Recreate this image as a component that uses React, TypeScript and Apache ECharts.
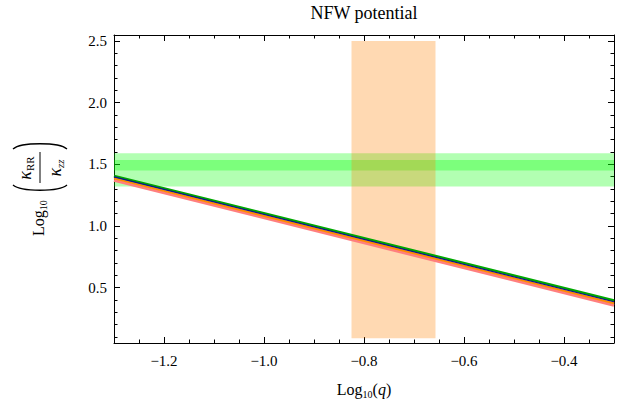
import React, { useEffect, useRef } from "react";
import * as echarts from "echarts";

// ---- data ----
const xRange = [-1.3, -0.3];
const yRange = [0.052, 2.548];
const xMajorTicks = [-1.2, -1.0, -0.8, -0.6, -0.4];
const xMinorTicks = [-1.25, -1.15, -1.1, -1.05, -0.95, -0.9, -0.85, -0.75, -0.7, -0.65, -0.55, -0.5, -0.45, -0.35];
const yMajorTicks = [0.5, 1.0, 1.5, 2.0, 2.5];
const yMinorTicks = [0.1, 0.2, 0.3, 0.4, 0.6, 0.7, 0.8, 0.9, 1.1, 1.2, 1.3, 1.4, 1.6, 1.7, 1.8, 1.9, 2.1, 2.2, 2.3, 2.4];

const logQ = [-1.3, -0.3];
const pinkLine = [1.37, 0.358];
const orangeLine = [1.386, 0.374];
const greenLine = [1.406, 0.397];
const blueLine = [1.398, 0.386];

const greenBands = [
  [1.32, 1.59],
  [1.449, 1.536],
];
const orangeBandX = [-0.825, -0.657];
const orangeBandY = [0.09, 2.5];

const SERIF = "Liberation Serif";

function fmtX(v: number) {
  return "{t|" + (v < 0 ? "\u2212" : "") + Math.abs(v).toFixed(1) + "}";
}
function fmtY(v: number) {
  return "{t|" + v.toFixed(1) + "}";
}

function makeAxis(kind: "x" | "y", position: string, ticks: number[], len: number, showLine: boolean, showLabel: boolean) {
  const range = kind === "x" ? xRange : yRange;
  return {
    type: "value",
    position,
    min: range[0],
    max: range[1],
    axisLine: { show: showLine, onZero: false, lineStyle: { color: "#000", width: 1 } },
    axisTick: { show: true, inside: true, length: len, customValues: ticks, lineStyle: { color: "#000", width: 1 } },
    axisLabel: {
      show: showLabel,
      customValues: ticks,
      formatter: (v: number) => (kind === "x" ? fmtX(v) : fmtY(v)),
      color: "#000",
      fontFamily: SERIF,
      fontSize: 15,
      margin: kind === "x" ? 10 : 7,
      rich: { t: { fontFamily: SERIF, fontSize: 15, color: "#000" } },
    },
    splitLine: { show: false },
    minorTick: { show: false },
  };
}

function lineSeries(values: number[], color: string, width: number, z: number) {
  return {
    type: "line",
    xAxisIndex: 0,
    yAxisIndex: 0,
    data: logQ.map((x, i) => [x, values[i]]),
    symbol: "none",
    showSymbol: false,
    silent: true,
    z,
    lineStyle: { color, width },
  };
}

const subRich = {
  n: { fontFamily: SERIF, fontSize: 16, lineHeight: 20, fill: "#000", color: "#000" },
  s: { fontFamily: SERIF, fontSize: 10, lineHeight: 10, verticalAlign: "bottom", fill: "#000", color: "#000" },
  i: { fontFamily: SERIF, fontSize: 16, lineHeight: 20, fontStyle: "italic", fill: "#000", color: "#000" },
  k: { fontFamily: SERIF, fontSize: 18, lineHeight: 20, fontStyle: "italic", fill: "#000", color: "#000" },
  r: { fontFamily: SERIF, fontSize: 11, lineHeight: 11, verticalAlign: "bottom", fill: "#000", color: "#000" },
  z: { fontFamily: SERIF, fontSize: 11, lineHeight: 11, fontStyle: "italic", verticalAlign: "bottom", fill: "#000", color: "#000" },
};

export default function App() {
  const ref = useRef<HTMLDivElement>(null);
  useEffect(() => {
    if (!ref.current) return;
    const chart = echarts.init(ref.current, undefined, { renderer: "svg" });
    const bandRender = (fill: string) => (params: any, api: any) => {
      const p0 = api.coord([api.value(0), api.value(3)]);
      const p1 = api.coord([api.value(1), api.value(2)]);
      return {
        type: "rect",
        shape: { x: p0[0], y: p0[1], width: p1[0] - p0[0], height: p1[1] - p0[1] },
        style: { fill },
      };
    };
    chart.setOption({
      animation: false,
      backgroundColor: "#fff",
      textStyle: { fontFamily: SERIF, color: "#000" },
      grid: { left: 114, right: 10, top: 35, bottom: 66, containLabel: false },
      xAxis: [
        makeAxis("x", "bottom", xMajorTicks, 6, true, true),
        makeAxis("x", "bottom", xMinorTicks, 3.5, false, false),
        makeAxis("x", "top", xMajorTicks, 6, true, false),
        makeAxis("x", "top", xMinorTicks, 3.5, false, false),
      ],
      yAxis: [
        makeAxis("y", "left", yMajorTicks, 6, true, true),
        makeAxis("y", "left", yMinorTicks, 3.5, false, false),
        makeAxis("y", "right", yMajorTicks, 6, true, false),
        makeAxis("y", "right", yMinorTicks, 3.5, false, false),
      ],
      series: [
        {
          type: "custom",
          xAxisIndex: 0,
          yAxisIndex: 0,
          z: 1,
          silent: true,
          clip: true,
          renderItem: bandRender("rgba(0,255,0,0.3)"),
          encode: { x: [0, 1], y: [2, 3] },
          data: greenBands.map((b) => [xRange[0], xRange[1], b[0], b[1]]),
        },
        {
          type: "custom",
          xAxisIndex: 0,
          yAxisIndex: 0,
          z: 2,
          silent: true,
          clip: true,
          renderItem: bandRender("rgba(255,128,0,0.3)"),
          encode: { x: [0, 1], y: [2, 3] },
          data: [[orangeBandX[0], orangeBandX[1], orangeBandY[0], orangeBandY[1]]],
        },
        lineSeries(pinkLine, "#ff7f7f", 3, 3),
        lineSeries(orangeLine, "#ff8c00", 2, 4),
        lineSeries(greenLine, "#00a800", 2.5, 5),
        lineSeries(blueLine, "#101090", 1.2, 6),
      ],
      graphic: [
        {
          type: "text",
          x: 364,
          y: 13,
          style: { text: "NFW potential", fontFamily: SERIF, fontSize: 18, fill: "#000", align: "center", verticalAlign: "middle" },
        },
        {
          type: "text",
          x: 364,
          y: 389,
          style: {
            text: "{n|Log}{s|10}{n|(}{i|q}{n|)}",
            rich: subRich,
            fill: "#000",
            align: "center",
            verticalAlign: "middle",
          },
        },
        {
          type: "group",
          x: 40,
          y: 189,
          rotation: Math.PI / 2,
          children: [
            {
              type: "text",
              x: -47,
              y: -2,
              style: { text: "{n|Log}{s|10}", rich: subRich, fill: "#000", align: "left", verticalAlign: "middle" },
            },
            {
              type: "bezierCurve",
              shape: { x1: 4, y1: -27, x2: 4, y2: 27, cpx1: -3, cpy1: -19, cpx2: -3, cpy2: 19 },
              style: { stroke: "#000", lineWidth: 1.3, fill: "none" },
            },
            {
              type: "text",
              x: 21,
              y: -15,
              style: { text: "{k|\u03BA}{r|RR}", rich: subRich, fill: "#000", align: "center", verticalAlign: "middle" },
            },
            {
              type: "line",
              shape: { x1: 6, y1: 0, x2: 37, y2: 0 },
              style: { stroke: "#000", lineWidth: 1 },
            },
            {
              type: "text",
              x: 21,
              y: 15,
              style: { text: "{k|\u03BA}{z|zz}", rich: subRich, fill: "#000", align: "center", verticalAlign: "middle" },
            },
            {
              type: "bezierCurve",
              shape: { x1: 40, y1: -27, x2: 40, y2: 27, cpx1: 47, cpy1: -19, cpx2: 47, cpy2: 19 },
              style: { stroke: "#000", lineWidth: 1.3, fill: "none" },
            },
          ],
        },
      ],
    });
    return () => chart.dispose();
  }, []);
  return <div ref={ref} style={{ position: "fixed", left: 0, top: 0, width: 624, height: 409 }} />;
}
